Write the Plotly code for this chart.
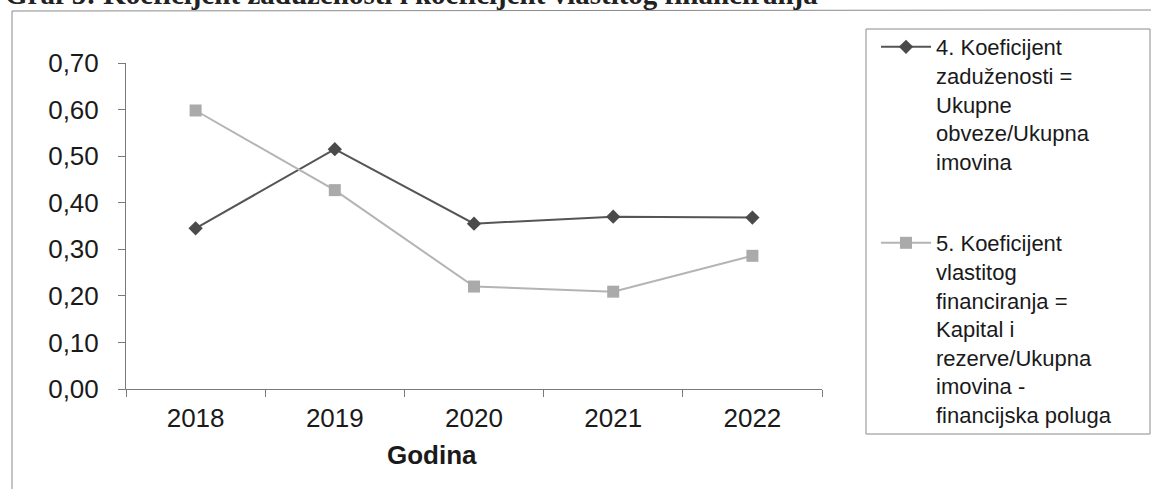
import plotly.graph_objects as go

# ---- data ----
years = ["2018", "2019", "2020", "2021", "2022"]
koef_zaduzenosti = [0.345, 0.515, 0.355, 0.370, 0.368]
koef_vlastitog = [0.598, 0.427, 0.220, 0.209, 0.286]
y_ticks = [0.0, 0.1, 0.2, 0.3, 0.4, 0.5, 0.6, 0.7]
y_tick_labels = ["0,00", "0,10", "0,20", "0,30", "0,40", "0,50", "0,60", "0,70"]
name1 = "4. Koeficijent<br>zaduženosti =<br>Ukupne<br>obveze/Ukupna<br>imovina"
name2 = ("5. Koeficijent<br>vlastitog<br>financiranja =<br>Kapital i<br>"
         "rezerve/Ukupna<br>imovina -<br>financijska poluga")
title_text = "Graf 5: Koeficijent zaduženosti i koeficijent vlastitog financiranja"

W, H = 1151, 489
L, R, T, B = 126, 822, 63, 389   # plot area pixels
FONT = "Liberation Sans, Arial, sans-serif"

def px_x(p):
    return (p - L) / (R - L)

def px_y(p):
    return (B - p) / (B - T)

fig = go.Figure()
fig.add_trace(go.Scatter(
    x=years, y=koef_zaduzenosti, name=name1, mode="lines+markers",
    line=dict(color="#555555", width=2),
    marker=dict(symbol="diamond", size=11, color="#4a4a4a"),
    legendgroup="g1",
))
fig.add_trace(go.Scatter(
    x=years, y=koef_vlastitog, name=name2, mode="lines+markers",
    line=dict(color="#b4b4b4", width=2),
    marker=dict(symbol="square", size=12, color="#aaaaaa"),
    legendgroup="g2",
))

fig.update_layout(
    width=W, height=H,
    margin=dict(l=L, r=W - R, t=T, b=H - B, pad=0),
    paper_bgcolor="white", plot_bgcolor="white",
    font=dict(family=FONT, color="#1a1a1a"),
    showlegend=True,
    legend=dict(
        x=px_x(876), y=px_y(26), xanchor="left", yanchor="top",
        borderwidth=0, bgcolor="rgba(0,0,0,0)",
        font=dict(family=FONT, size=22, color="#1a1a1a"),
        tracegroupgap=50, itemwidth=50, valign="top", maxheight=470,
    ),
    xaxis=dict(
        type="category", range=[-0.5, 4.5], showgrid=False, zeroline=False,
        showline=True, linecolor="#7a7a7a", linewidth=1,
        ticks="outside", ticklen=7, tickcolor="#7a7a7a", tickson="boundaries",
        tickfont=dict(family=FONT, size=26, color="#1a1a1a"),
        ticklabelstandoff=6,
    ),
    yaxis=dict(
        range=[0, 0.7], tickvals=y_ticks, ticktext=y_tick_labels,
        showgrid=False, zeroline=False,
        showline=True, linecolor="#7a7a7a", linewidth=1,
        ticks="outside", ticklen=7, tickcolor="#7a7a7a",
        tickfont=dict(family=FONT, size=26, color="#1a1a1a"),
        ticklabelstandoff=14,
    ),
    annotations=[
        dict(text="<b>Godina</b>", x=px_x(432), y=px_y(455), xref="paper", yref="paper",
             xanchor="center", yanchor="middle", showarrow=False,
             font=dict(family=FONT, size=26, color="#1a1a1a")),
        dict(text="<b>" + title_text + "</b>", x=px_x(3), y=px_y(-6), xref="paper", yref="paper",
             xanchor="left", yanchor="middle", showarrow=False,
             font=dict(family="Liberation Serif, Times New Roman, serif", size=29, color="#222222")),
    ],
    shapes=[
        dict(type="line", xref="paper", yref="paper", x0=px_x(12), x1=px_x(12),
             y0=px_y(11), y1=px_y(495), line=dict(color="#8a8a8a", width=1)),
        dict(type="line", xref="paper", yref="paper", x0=px_x(12), x1=px_x(1160),
             y0=px_y(11), y1=px_y(10), line=dict(color="#8a8a8a", width=1)),
        dict(type="rect", xref="paper", yref="paper", x0=px_x(866), x1=px_x(1150),
             y0=px_y(434), y1=px_y(29), line=dict(color="#8a8a8a", width=1),
             layer="below"),
    ],
)

fig.write_html(
    "out.html",
    config={"displayModeBar": False},
    post_script="document.body.style.margin='0';document.body.style.overflow='hidden';",
)
